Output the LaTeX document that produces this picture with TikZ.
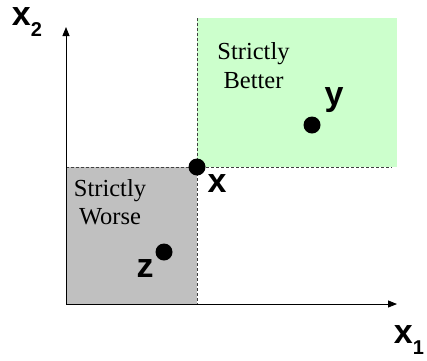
\documentclass[tikz,border=0pt]{standalone}
\usepackage{fontspec}
\setmainfont{Liberation Serif}
\newfontfamily\labelfont{Liberation Sans}
\usetikzlibrary{arrows.meta}
\definecolor{betterfill}{HTML}{CCFFCC}
\definecolor{worsefill}{HTML}{C0C0C0}
\definecolor{guide}{HTML}{404040}
\tikzset{
  axis/.style={line width=0.9pt, -{Triangle[length=9pt,width=7pt]}},
  guideline/.style={guide, line width=0.8pt, dash pattern=on 3pt off 2pt},
  dot/.style={circle, fill=black, inner sep=0pt, minimum size=17pt},
  ptlabel/.style={font=\labelfont\bfseries\fontsize{34}{34}\selectfont, inner sep=0pt},
  region/.style={font=\fontsize{24.5}{28.5}\selectfont, align=center, inner sep=0pt},
}
\begin{document}
\begin{tikzpicture}[x=1pt,y=-1pt]
  \useasboundingbox (0,0) rectangle (427,360);
  % dominance regions
  \fill[betterfill] (197,18) rectangle (397,167);
  \fill[worsefill] (66,167) rectangle (197,304);
  % guides through x
  \draw[guideline] (197,18) -- (197,304);
  \draw[guideline] (66,167) -- (392,167);
  % axes
  \coordinate (origin) at (66,304);
  \coordinate (xend) at (397,304);
  \coordinate (yend) at (66,27);
  \draw[axis] (origin) -- (xend);
  \draw[axis] (origin) -- (yend);
  % axis labels
  \node[ptlabel] (xone) at (409,340) {x\raisebox{-0.3em}{\fontsize{20}{20}\selectfont 1}};
  \node[ptlabel] (xtwo) at (27,22) {x\raisebox{-0.3em}{\fontsize{20}{20}\selectfont 2}};
  % points
  \node[dot] (px) at (197,167) {};
  \node[dot] (py) at (312,125) {};
  \node[dot] (pz) at (164,252) {};
  \node[ptlabel] (lx) at (217,184) {x};
  \node[ptlabel] (ly) at (334,100) {y};
  \node[ptlabel] (lz) at (145,269) {z};
  % region captions
  \node[region] (better) at (253.5,65.5) {Strictly\\Better};
  \node[region] (worse) at (110,202) {Strictly\\Worse};
\end{tikzpicture}
\end{document}
